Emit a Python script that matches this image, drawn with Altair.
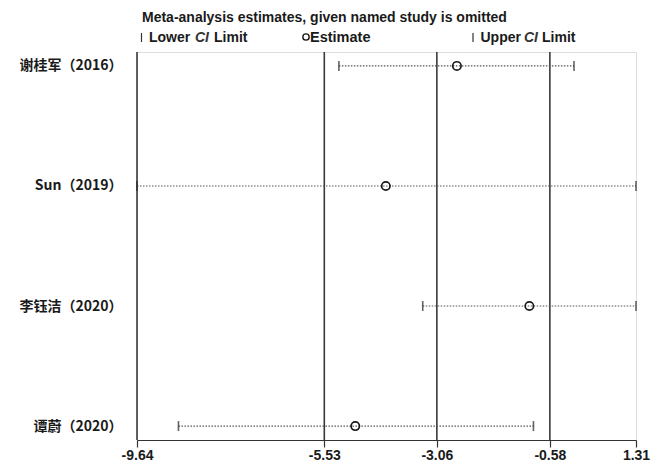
import altair as alt
import pandas as pd

studies = ["谢桂军（2016）", "Sun（2019）", "李钰洁（2020）", "谭蔚（2020）"]
lower = [-5.21, -9.64, -3.37, -8.73]
estimate = [-2.62, -4.18, -1.03, -4.85]
upper = [-0.05, 1.31, 1.31, -0.94]
ref_lines = [-9.64, -5.53, -3.06, -0.58]
x_ticks = [-9.64, -5.53, -3.06, -0.58, 1.31]
title_text = "Meta-analysis estimates, given named study is omitted"

df = pd.DataFrame({"study": studies, "lower": lower, "est": estimate, "upper": upper})
rules_df = pd.DataFrame({"x": ref_lines})

W, H = 499, 388
FONT = "Liberation Sans"
xs = alt.Scale(domain=[-9.64, 1.31], nice=False, zero=False)
ys = alt.Scale(type="point", padding=0.116)

x_axis = alt.Axis(values=x_ticks, title=None, grid=False,
                  labelExpr="replace(format(datum.value, '.2f'), '\u2212', '-')",
                  labelFont=FONT, labelFontSize=14, labelFontWeight="bold",
                  labelColor="#1a1a1a", domainColor="#333333", domainWidth=1.2,
                  tickColor="#333333", tickSize=7, tickWidth=1.2, labelPadding=1,
                  labelFlush=False, labelOverlap=False)
y_axis = alt.Axis(title=None, domain=False, ticks=False, grid=False,
                  labelFont="Noto Sans CJK SC", labelFontSize=14, labelFontWeight="bold",
                  labelColor="#1a1a1a", labelPadding=15)

base = alt.Chart(df)

vlines = alt.Chart(rules_df).mark_rule(color="#3a3a3a", strokeWidth=1.6).encode(
    x=alt.X("x:Q", scale=xs, axis=x_axis),
    y=alt.value(0), y2=alt.value(H))

ci = base.mark_rule(color="#555555", strokeWidth=1.2, strokeDash=[1.5, 1.5]).encode(
    x=alt.X("lower:Q", scale=xs, axis=x_axis), x2="upper:Q",
    y=alt.Y("study:N", scale=ys, sort=studies, axis=y_axis))

lo = base.mark_tick(color="#222222", thickness=1.6, size=10, orient="vertical").encode(
    x=alt.X("lower:Q", scale=xs), y=alt.Y("study:N", scale=ys, sort=studies, axis=y_axis))
up = base.mark_tick(color="#222222", thickness=1.6, size=10, orient="vertical").encode(
    x=alt.X("upper:Q", scale=xs), y=alt.Y("study:N", scale=ys, sort=studies, axis=y_axis))
pt = base.mark_point(shape="circle", filled=False, size=70, color="#1a1a1a",
                     strokeWidth=1.7, opacity=1).encode(
    x=alt.X("est:Q", scale=xs), y=alt.Y("study:N", scale=ys, sort=studies, axis=y_axis))

def txt(s, x, y, style="normal", weight="bold", size=14, color="#1a1a1a"):
    return alt.Chart(pd.DataFrame({"t": [s]})).mark_text(
        align="left", baseline="alphabetic", font=FONT, fontSize=size,
        fontWeight=weight, fontStyle=style, color=color).encode(
        text="t:N", x=alt.value(x), y=alt.value(y))

def bar_sym(x):
    return alt.Chart(pd.DataFrame({"a": [0]})).mark_rule(color="#333333", strokeWidth=1.2).encode(
        x=alt.value(x), y=alt.value(-19), y2=alt.value(-10))

circ_sym = alt.Chart(pd.DataFrame({"a": [0]})).mark_point(
    shape="circle", filled=False, size=40, color="#1a1a1a", strokeWidth=1.4, opacity=1).encode(
    x=alt.value(169), y=alt.value(-15))

legend = [
    txt(title_text, 5, -30),
    bar_sym(4.5),
    txt("Lower", 12, -10),
    txt("CI", 58, -10, style="italic", weight="bold", color="#333333"),
    txt("Limit", 77, -10),
    circ_sym,
    txt("Estimate", 173, -10, size=14.5),
    bar_sym(336),
    txt("Upper", 343.5, -10),
    txt("CI", 387, -10, style="italic", weight="bold", color="#333333"),
    txt("Limit", 405, -10),
]

chart = alt.layer(vlines, ci, lo, up, pt, *legend).properties(
    width=W, height=H,
    autosize=alt.AutoSizeParams(type="none"),
    padding={"left": 129, "top": 44, "right": 20, "bottom": 22},
).configure_view(stroke=None).configure(background="white")

chart.save("out.html", embed_options={"renderer": "svg", "actions": False})
